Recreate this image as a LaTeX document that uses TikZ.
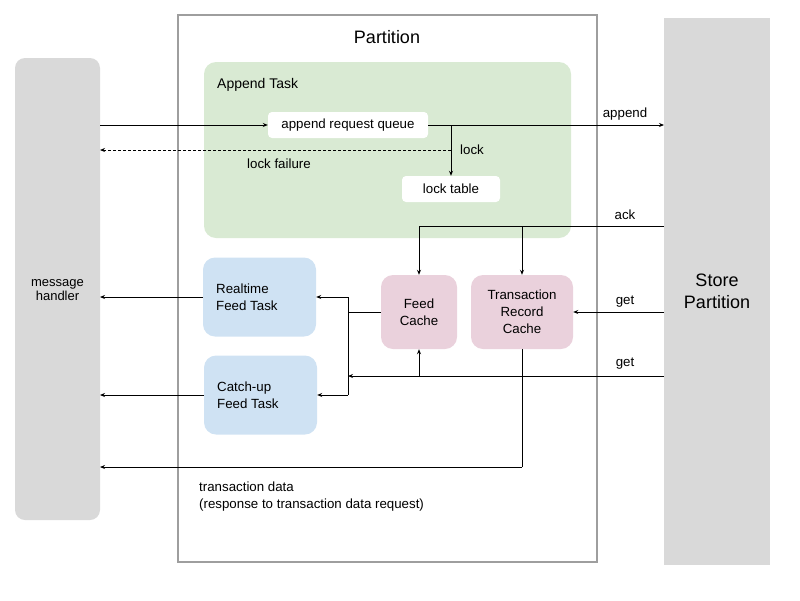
\documentclass[tikz,border=0pt]{standalone}
\usepackage{fontspec}
\setmainfont{Liberation Sans}
\usetikzlibrary{arrows.meta}
\definecolor{sidegray}{HTML}{D9D9D9}
\definecolor{partgray}{HTML}{9E9E9E}
\definecolor{taskgreen}{HTML}{D9EAD3}
\definecolor{taskblue}{HTML}{CFE2F3}
\definecolor{cachepink}{HTML}{EAD1DC}
\newcommand{\lblfont}{\fontsize{13.3}{17}\selectfont}
\tikzset{
  lbl/.style={font=\lblfont, inner sep=0pt},
  smallbox/.style={fill=white, rounded corners=4pt, font=\lblfont, inner sep=0pt},
  bluebox/.style={fill=taskblue, rounded corners=12pt, inner sep=0pt, minimum width=113pt, minimum height=79pt},
  pinkbox/.style={fill=cachepink, rounded corners=12pt, inner sep=0pt, minimum height=74pt, align=center, font=\lblfont},
  arr/.style={-{Stealth[length=5pt,width=4pt]}, line width=0.9pt},
  ln/.style={line width=0.9pt}
}
\begin{document}
\begin{tikzpicture}[x=1pt,y=-1pt]
\useasboundingbox (0,0) rectangle (800,600);
% side panels
\node[fill=sidegray, rounded corners=10pt, minimum width=85pt, minimum height=462pt, inner sep=0pt] (mh) at (57.5,289) {};
\node[align=center, font=\fontsize{13}{14.5}\selectfont] (mhtext) at (57.5,290) {message\\handler};
\node[fill=sidegray, minimum width=106pt, minimum height=547pt, inner sep=0pt] (sp) at (717,291.5) {};
\node[align=center, font=\fontsize{18}{22}\selectfont] (sptext) at (717,291) {Store\\Partition};
% partition
\node[draw=partgray, line width=1.5pt, minimum width=419pt, minimum height=547pt, inner sep=0pt] (part) at (387.5,288.5) {};
\node[font=\fontsize{18}{22}\selectfont] (parttitle) at (387,37) {Partition};
% append task
\node[fill=taskgreen, rounded corners=12pt, minimum width=367pt, minimum height=176pt, inner sep=0pt] (at) at (387.5,150) {};
\node[lbl, anchor=west, font=\fontsize{14}{17}\selectfont] (attitle) at (217,85) {Append Task};
\node[smallbox, minimum width=160pt, minimum height=26pt] (arq) at (348,125) {append request queue};
\node[smallbox, minimum width=98pt, minimum height=26pt] (lt) at (451,189) {lock table};
% tasks
\node[bluebox] (rft) at (259.5,297) {};
\node[lbl, anchor=west, align=left] at (216,297) {Realtime\\[0pt]Feed Task};
\node[bluebox] (cft) at (260.5,395) {};
\node[lbl, anchor=west, align=left] at (217,395) {Catch-up\\[0pt]Feed Task};
% caches
\node[pinkbox, minimum width=76pt] (fc) at (419,312) {Feed\\Cache};
\node[pinkbox, minimum width=102pt] (trc) at (522,312) {Transaction\\Record\\Cache};
% coordinates
\coordinate (mhA) at (100,125);
\coordinate (spA) at (664,125);
\coordinate (lockJ) at (451,125);
\coordinate (lfJ) at (451,150);
\coordinate (mhLF) at (100,150);
\coordinate (spAck) at (664,226);
\coordinate (ackFC) at (419,226);
\coordinate (ackTRC) at (522,226);
\coordinate (spGet1) at (664,312);
\coordinate (spGet2) at (664,376);
\coordinate (vJ) at (348,376);
\coordinate (fcJ) at (419,376);
\coordinate (vTop) at (348,297);
\coordinate (vBot) at (348,395);
\coordinate (fcL) at (348,312);
\coordinate (mhRT) at (100,297);
\coordinate (mhCU) at (100,395);
\coordinate (trcB) at (522,467);
\coordinate (mhTD) at (100,467);
% connectors
\draw[arr] (mhA) -- (arq.west);
\draw[arr] (arq.east) -- (spA);
\draw[arr] (lockJ) -- (lt.north);
\draw[arr, dashed, dash pattern=on 3pt off 2pt] (lfJ) -- (mhLF);
\draw[ln] (spAck) -- (ackFC);
\draw[arr] (ackFC) -- (fc.north);
\draw[arr] (ackTRC) -- (trc.north);
\draw[arr] (spGet1) -- (trc.east);
\draw[arr] (spGet2) -- (vJ);
\draw[arr] (fcJ) -- (fc.south);
\draw[ln] (fc.west) -- (fcL);
\draw[ln] (vTop) -- (vBot);
\draw[arr] (vTop) -- (rft.east);
\draw[arr] (vBot) -- (cft.east);
\draw[arr] (rft.west) -- (mhRT);
\draw[arr] (cft.west) -- (mhCU);
\draw[ln] (trc.south) -- (trcB);
\draw[arr] (trcB) -- (mhTD);
% labels
\node[lbl] (lappend) at (625,114) {append};
\node[lbl] (llock) at (472,150) {lock};
\node[lbl] (llf) at (279,164) {lock failure};
\node[lbl] (lack) at (625,215) {ack};
\node[lbl] (lget1) at (625,302) {get};
\node[lbl] (lget2) at (625,364) {get};
\node[lbl, anchor=west, align=left] (ltd) at (199,497) {transaction data\\(response to transaction data request)};
\end{tikzpicture}
\end{document}
